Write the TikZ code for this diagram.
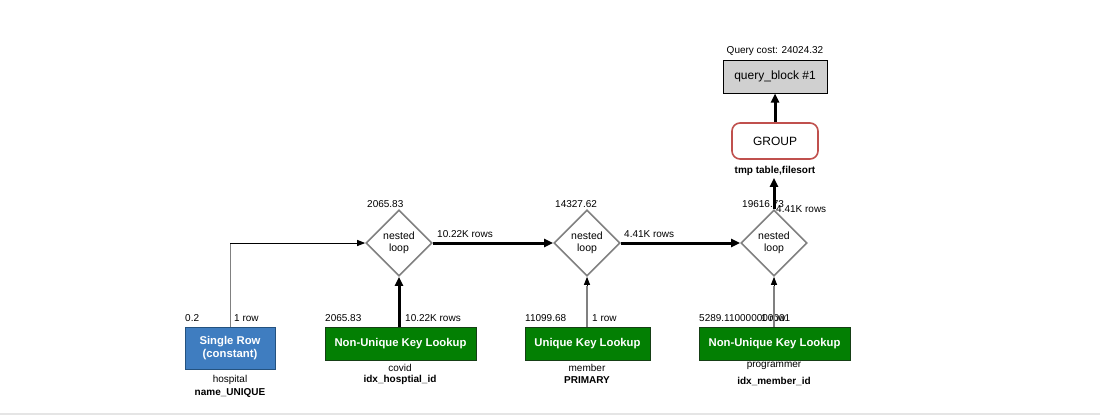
\documentclass[tikz,border=0pt]{standalone}
\usepackage{fontspec}
\setmainfont{Liberation Sans}
\usetikzlibrary{arrows.meta,shapes.geometric}
\definecolor{boxblue}{HTML}{3F7DC0}
\definecolor{boxblueb}{HTML}{24527F}
\definecolor{boxgreen}{HTML}{037F03}
\definecolor{boxgreenb}{HTML}{163F16}
\definecolor{grpred}{HTML}{C0504D}
\definecolor{qbgray}{HTML}{D0D0D0}
\definecolor{linegray}{HTML}{808080}
\tikzset{
  opbox/.style={draw=boxgreenb, line width=1pt, fill=boxgreen, text=white, font=\fontsize{11.3}{13}\selectfont\bfseries, inner sep=0pt, minimum height=33pt},
  constbox/.style={draw=boxblueb, line width=1pt, fill=boxblue, text=white, font=\fontsize{11.3}{13}\selectfont\bfseries, align=center, inner sep=0pt, minimum width=90pt, minimum height=42pt},
  loopnode/.style={draw=linegray, line width=1.6pt, diamond, minimum width=66pt, minimum height=66pt, inner sep=0pt, align=center, font=\fontsize{10.5}{11.5}\selectfont},
  lbl/.style={font=\fontsize{10}{12}\selectfont, inner sep=0pt},
  sublbl/.style={font=\fontsize{10}{12}\selectfont, inner sep=0pt},
  boldlbl/.style={font=\fontsize{10}{12}\selectfont\bfseries, inner sep=0pt},
  thinarrow/.style={line width=1pt, -{Triangle[length=8pt,width=6pt]}},
  thickarrow/.style={line width=3pt, -{Triangle[length=9pt,width=8pt]}},
  smallhead/.style={line width=1pt, -{Triangle[length=8pt,width=6pt]}},
}
\begin{document}
\begin{tikzpicture}[x=1pt,y=-1pt]
\useasboundingbox (0,0) rectangle (1100,416);
\draw[draw=black!10, line width=2pt] (0,414) -- (1100,414);

% top blocks
\node[draw=black, line width=1pt, fill=qbgray, minimum width=104pt, minimum height=33pt, inner sep=0pt, font=\fontsize{12}{14}\selectfont] (qb) at (775,76.5) {query\_block \#1};
\node[lbl, anchor=south] (qcost) at (775,56) {Query cost: 24024.32};
\node[draw=grpred, line width=1.6pt, rounded corners=8pt, fill=white, minimum width=86pt, minimum height=36pt, inner sep=0pt, font=\fontsize{12}{14}\selectfont] (grp) at (775,141) {GROUP};
\node[boldlbl] (grplbl) at (775,171) {tmp table,filesort};

% diamonds
\node[loopnode] (d1) at (399,243) {nested\\loop};
\node[loopnode] (d2) at (587,243) {nested\\loop};
\node[loopnode] (d3) at (774,243) {nested\\loop};
\node[lbl, anchor=west] (c1) at (367,204) {2065.83};
\node[lbl, anchor=west] (c2) at (555,204) {14327.62};
\node[lbl, anchor=west] (c3) at (742,204) {19616.73};

% bottom boxes
\node[constbox] (sr) at (230,348) {Single Row\\(constant)};
\node[opbox, minimum width=151pt] (nu1) at (400.5,343.5) {Non-Unique Key Lookup};
\node[opbox, minimum width=125pt] (uk) at (587.5,343.5) {Unique Key Lookup};
\node[opbox, minimum width=151pt] (nu3) at (774.5,343.5) {Non-Unique Key Lookup};

% labels above boxes
\node[lbl, anchor=west] (l1) at (185,318) {0.2};
\node[lbl, anchor=west] (l2) at (234,318) {1 row};
\node[lbl, anchor=west] (l3) at (325,318) {2065.83};
\node[lbl, anchor=west] (l4) at (405,318) {10.22K rows};
\node[lbl, anchor=west] (l5) at (525,318) {11099.68};
\node[lbl, anchor=west] (l6) at (592,318) {1 row};
\node[lbl, anchor=west] (l7) at (699,318) {5289.110000000001};
\node[lbl, anchor=west] (l8) at (761,318) {1 row};

% labels below boxes
\node[sublbl] (t1) at (230,380) {hospital};
\node[boldlbl] (k1) at (230,393) {name\_UNIQUE};
\node[sublbl] (t2) at (400,368) {covid};
\node[boldlbl] (k2) at (400,380) {idx\_hosptial\_id};
\node[sublbl] (t3) at (587,368) {member};
\node[boldlbl] (k3) at (587,380) {PRIMARY};
\node[sublbl] (t4) at (774,366) {programmer};
\node[boldlbl] (k4) at (774,381) {idx\_member\_id};

% edge labels
\node[lbl, anchor=west] (r1) at (437,234) {10.22K rows};
\node[lbl, anchor=west] (r2) at (624,234) {4.41K rows};
\node[lbl, anchor=west] (r3) at (776,209) {4.41K rows};

% connectors
\coordinate (bend) at (230,243);
\draw[line width=1pt, linegray] (sr.north) -- (bend);
\draw[thinarrow] (bend) -- (d1.west);
\draw[thickarrow] (nu1.north -| d1.south) -- (d1.south);
\draw[thickarrow] (d1.east) -- (d2.west);
\coordinate (h2) at ([yshift=-9pt]d2.south);
\draw[line width=1.2pt, linegray] (uk.north -| d2.south) -- (h2);
\draw[smallhead] (h2) -- (d2.south);
\draw[thickarrow] (d2.east) -- (d3.west);
\coordinate (h3) at ([yshift=-9pt]d3.south);
\draw[line width=1.2pt, linegray] (nu3.north -| d3.south) -- (h3);
\draw[smallhead] (h3) -- (d3.south);
\coordinate (gtip) at ([yshift=-2pt]grplbl.south -| d3.north);
\draw[thickarrow] (d3.north) -- (gtip);
\draw[thickarrow] (grp.north) -- (qb.south);
\end{tikzpicture}
\end{document}
